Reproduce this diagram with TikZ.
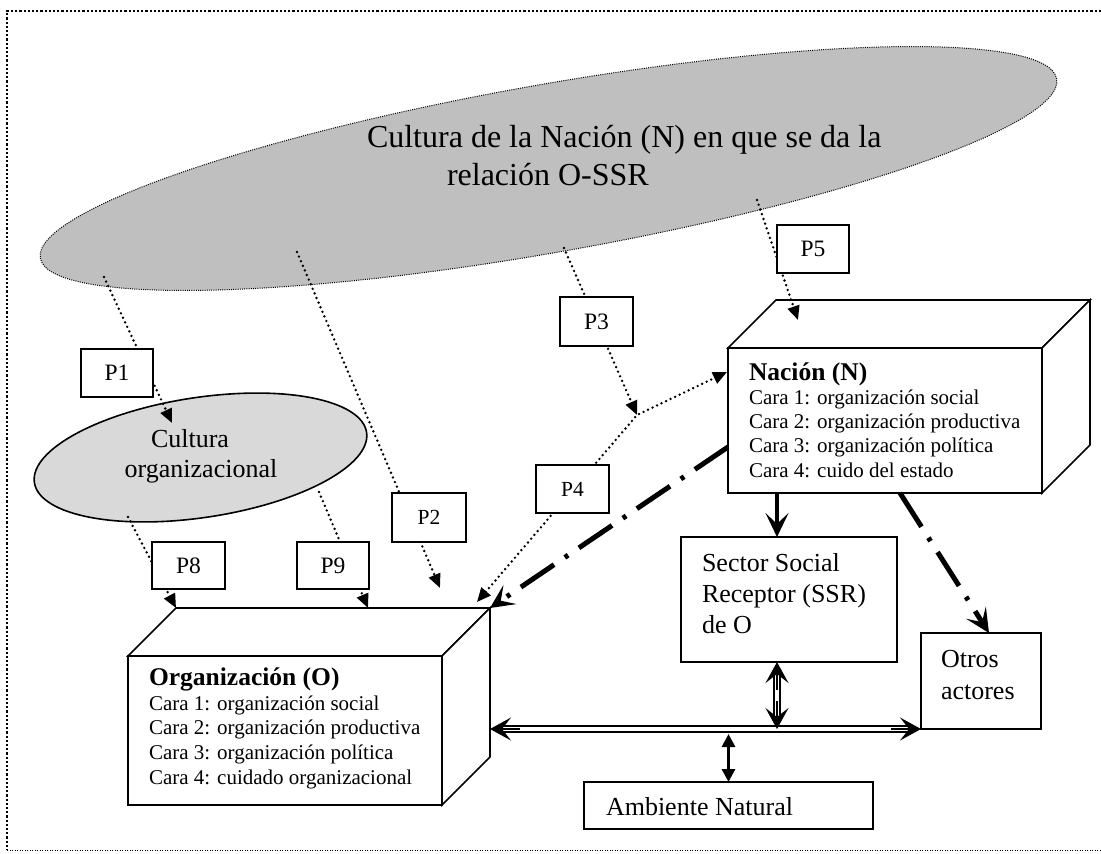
\documentclass[tikz,border=0pt]{standalone}
\usepackage{fontspec}
\setmainfont{Liberation Serif}
\usetikzlibrary{arrows.meta,shapes.geometric,calc}
\tikzset{
  ptip/.tip={Triangle[length=14pt,width=12pt]},
  bigtip/.tip={Stealth[length=24pt,width=23pt,inset=11pt]},
  dtip/.tip={Stealth[length=21pt,width=23pt,inset=9pt]},
  atip/.tip={Triangle[length=13pt,width=13pt]}
}
\begin{document}
\begin{tikzpicture}[x=1pt,y=-1pt,
  every node/.style={inner sep=0pt, outer sep=0pt},
  pbox/.style={draw, fill=white, line width=1.6pt, minimum width=72pt, minimum height=48pt, font=\fontsize{23.5}{27}\selectfont},
  pboxs/.style={pbox, font=\fontsize{21.5}{25}\selectfont},
  rbox/.style={draw, fill=white, line width=1.6pt},
  txt/.style={anchor=base west, font=\fontsize{26}{31}\selectfont},
  cara/.style={anchor=base west, font=\fontsize{21}{24}\selectfont},
  ttl/.style={anchor=base west, font=\fontsize{25.5}{30}\selectfont\bfseries},
  pline/.style={line width=2.7pt, dash pattern=on 0pt off 5pt, line cap=round},
  ddash/.style={line width=5pt, dash pattern=on 40pt off 13pt on 4pt off 13pt},
  dline/.style={line width=2pt, double distance=3.5pt},
  cubeline/.style={line width=1.6pt, line join=miter}
]
\useasboundingbox (0,0) rectangle (1101,854);
% frame
\draw[line width=2.2pt, dash pattern=on 2.2pt off 2pt] (1101,11) -- (7,11) -- (7,850);
\draw[line width=1pt, dash pattern=on 1pt off 1.5pt] (7,850) -- (1101,850);

% big ellipse
\node[draw, shape=ellipse, fill=gray!50, line width=1pt, dash pattern=on 1pt off 1.2pt,
      minimum width=1032pt, minimum height=168pt, rotate=10] (CN) at (548.5,168.5) {};
\node[anchor=base west, font=\fontsize{32}{38}\selectfont] (cn1) at (367,147) {Cultura de la Nación (N) en que se da la};
\node[anchor=base west, font=\fontsize{32}{38}\selectfont] (cn2) at (447,185) {relación O-SSR};

% small ellipse
\node[draw, shape=ellipse, fill=gray!30, line width=1.6pt,
      minimum width=336pt, minimum height=120pt, rotate=8.6] (CO) at (200.5,457.5) {};
\node[anchor=base, font=\fontsize{26}{30}\selectfont] (co1) at (190,447) {Cultura};
\node[anchor=base, font=\fontsize{26}{30}\selectfont] (co2) at (201,477) {organizacional};

% cubes
\node[draw, fill=white, cubeline, minimum width=314pt, minimum height=145pt] (N) at (885,420.5) {};
\draw[cubeline, fill=white] (N.north west) -- ++(48,-48) -- ++(314,0) -- (N.north east) -- cycle;
\draw[cubeline, fill=white] (N.north east) -- ++(48,-48) -- ++(0,145) -- (N.south east) -- cycle;
\node[ttl] (Nt) at (749,380) {Nación (N)};
\node[cara] (N1) at (749,404) {Cara 1: organización social};
\node[cara] (N2) at (749,428) {Cara 2: organización productiva};
\node[cara] (N3) at (749,452) {Cara 3: organización política};
\node[cara] (N4) at (749,477) {Cara 4: cuido del estado};

\node[draw, fill=white, cubeline, minimum width=314pt, minimum height=149pt] (O) at (285,730.5) {};
\draw[cubeline, fill=white] (O.north west) -- ++(48,-48) coordinate (obtl) -- ++(314,0) coordinate (obtr) -- (O.north east) -- cycle;
\draw[cubeline, fill=white] (O.north east) -- ++(48,-48) -- ++(0,149) -- (O.south east) -- cycle;
\node[ttl] (Ot) at (149,685) {Organización (O)};
\node[cara] (O1) at (149,710) {Cara 1: organización social};
\node[cara] (O2) at (149,734) {Cara 2: organización productiva};
\node[cara] (O3) at (149,759) {Cara 3: organización política};
\node[cara] (O4) at (149,784) {Cara 4: cuidado organizacional};

% other boxes
\node[rbox, minimum width=216pt, minimum height=125pt] (SSR) at (789,599.5) {};
\node[txt] (S1) at (702,571) {Sector Social};
\node[txt] (S2) at (702,602) {Receptor (SSR)};
\node[txt] (S3) at (702,633) {de O};
\node[rbox, minimum width=120pt, minimum height=96pt] (OA) at (981,681) {};
\node[txt] (OA1) at (941,667) {Otros};
\node[txt] (OA2) at (941,699) {actores};
\node[rbox, minimum width=289pt, minimum height=47pt] (AN) at (728.5,805.5) {};
\node[txt] (AN1) at (606,815) {Ambiente Natural};

% helper coordinates
\coordinate (s1) at (104,277);
\coordinate (e1) at (172,423);
\coordinate (s2) at (297,252);
\coordinate (e2) at (440,588);
\coordinate (s3) at (564,248);
\coordinate (e3) at (637,415);
\coordinate (s5) at (757,200);
\coordinate (e5) at (798,320);
\coordinate (s8) at (128,517);
\coordinate (s9) at (319,492);
\coordinate (e9x) at (368,0);
\coordinate (e4a) at (477,602);
\coordinate (e4b) at (727,372);
\coordinate (ax) at (777,0);
\coordinate (bx) at (900,0);
\coordinate (cx) at (989,0);
\coordinate (hy) at (0,729);

% dotted connectors
\draw[pline, -{ptip}] (s1) -- (e1);
\draw[pline, -{ptip}] (s2) -- (e2);
\draw[pline, -{ptip}] (s3) -- (e3);
\draw[pline, -{ptip}] (s5) -- (e5);
\draw[pline, -{ptip}] (s8) -- (obtl);
\draw[pline, -{ptip}] (s9) -- (obtl -| e9x);
\draw[pline, {ptip}-{ptip}] (e4a) -- (e3) -- (e4b);

% P boxes
\node[pbox] (P1) at (117,373) {P1};
\node[pboxs, minimum width=74pt, minimum height=49pt] (P2) at (429,517.5) {P2};
\node[pbox, minimum width=73pt, minimum height=49pt] (P3) at (596.5,321.5) {P3};
\node[pboxs, minimum width=73pt] (P4) at (572.5,489) {P4};
\node[pbox] (P5) at (813,249) {P5};
\node[pbox, minimum width=73pt, minimum height=47pt] (P8) at (188.5,565.5) {P8};
\node[pbox, minimum height=47pt] (P9) at (333,565.5) {P9};

% thick connectors
\draw[line width=3.5pt, -{bigtip}] (N.south -| ax) -- (SSR.north -| ax);
\draw[ddash, -{bigtip}] ($(N.north west)+(0,99)$) -- (obtr);
\draw[ddash, -{bigtip}] (N.south -| bx) -- (OA.north -| cx);

% double connectors: O <-> Otros, SSR <-> line
\coordinate (hl) at (obtr |- hy);
\coordinate (hr) at (OA.south west);
\coordinate (vt) at (SSR.south -| ax);
\coordinate (vb) at (ax |- hy);
\draw[dline] ($(hl)+(12,0)$) -- ($(hr)+(-12,0)$);
\draw[dline] ($(vt)+(0,12)$) -- ($(vb)+(0,-12)$);
\draw[line width=1.6pt, -{dtip}] ($(hl)+(30,0)$) -- (hl);
\draw[line width=1.6pt, -{dtip}] ($(hr)+(-30,0)$) -- (hr);
\draw[line width=1.6pt, -{dtip}] ($(vt)+(0,28)$) -- (vt);
\draw[line width=1.6pt, -{dtip}] ($(vb)+(0,-28)$) -- (vb);
\draw[line width=3pt, {atip}-{atip}] ($(hy -| AN.north)+(0,5)$) -- (AN.north);
\end{tikzpicture}
\end{document}
